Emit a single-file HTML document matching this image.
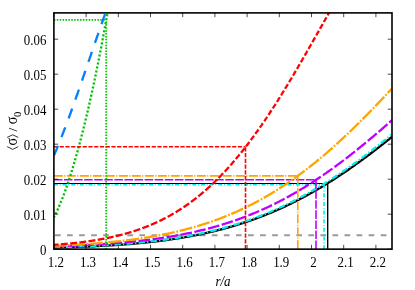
<!DOCTYPE html><html><head><meta charset="utf-8"><style>html,body{margin:0;padding:0;background:#fff}body{width:415px;height:290px;overflow:hidden;position:relative;font-family:"Liberation Serif",serif}.t text{font-family:"Liberation Serif",serif;font-size:13.3px}</style></head><body><svg width="415" height="290" viewBox="0 0 415 290" style="position:absolute;left:0;top:0;will-change:transform">
<defs><clipPath id="c"><rect x="53.9" y="12.9" width="338.1" height="236.25"/></clipPath></defs>
<rect width="415" height="290" fill="#fff"/>
<g clip-path="url(#c)" fill="none" stroke-linejoin="round">
<path d="M53.9,235.20 H392.0" stroke="#9a9a9a" stroke-width="2.0" stroke-dasharray="5.7 6.365" stroke-dashoffset="11.0"/>
<path d="M53.90,247.67 L55.03,247.65 L56.16,247.62 L57.29,247.59 L58.42,247.56 L59.55,247.53 L60.68,247.50 L61.82,247.47 L62.95,247.43 L64.08,247.40 L65.21,247.37 L66.34,247.33 L67.47,247.30 L68.60,247.26 L69.73,247.23 L70.86,247.19 L71.99,247.15 L73.12,247.12 L74.25,247.08 L75.38,247.04 L76.52,247.00 L77.65,246.96 L78.78,246.91 L79.91,246.87 L81.04,246.83 L82.17,246.78 L83.30,246.74 L84.43,246.69 L85.56,246.64 L86.69,246.60 L87.82,246.55 L88.95,246.50 L90.08,246.45 L91.22,246.40 L92.35,246.35 L93.48,246.29 L94.61,246.24 L95.74,246.18 L96.87,246.13 L98.00,246.07 L99.13,246.01 L100.26,245.95 L101.39,245.89 L102.52,245.83 L103.65,245.77 L104.78,245.70 L105.92,245.64 L107.05,245.57 L108.18,245.51 L109.31,245.44 L110.44,245.37 L111.57,245.30 L112.70,245.23 L113.83,245.15 L114.96,245.08 L116.09,245.00 L117.22,244.93 L118.35,244.85 L119.48,244.77 L120.62,244.69 L121.75,244.61 L122.88,244.52 L124.01,244.44 L125.14,244.35 L126.27,244.26 L127.40,244.17 L128.53,244.08 L129.66,243.99 L130.79,243.90 L131.92,243.80 L133.05,243.70 L134.18,243.61 L135.32,243.51 L136.45,243.40 L137.58,243.30 L138.71,243.19 L139.84,243.09 L140.97,242.98 L142.10,242.87 L143.23,242.76 L144.36,242.64 L145.49,242.53 L146.62,242.41 L147.75,242.29 L148.88,242.17 L150.02,242.05 L151.15,241.92 L152.28,241.79 L153.41,241.66 L154.54,241.53 L155.67,241.40 L156.80,241.26 L157.93,241.13 L159.06,240.99 L160.19,240.85 L161.32,240.70 L162.45,240.56 L163.58,240.41 L164.72,240.26 L165.85,240.11 L166.98,239.95 L168.11,239.79 L169.24,239.64 L170.37,239.47 L171.50,239.31 L172.63,239.14 L173.76,238.97 L174.89,238.80 L176.02,238.63 L177.15,238.45 L178.28,238.28 L179.42,238.09 L180.55,237.91 L181.68,237.72 L182.81,237.53 L183.94,237.34 L185.07,237.15 L186.20,236.95 L187.33,236.75 L188.46,236.55 L189.59,236.34 L190.72,236.14 L191.85,235.93 L192.98,235.71 L194.12,235.49 L195.25,235.28 L196.38,235.05 L197.51,234.83 L198.64,234.60 L199.77,234.37 L200.90,234.13 L202.03,233.90 L203.16,233.65 L204.29,233.41 L205.42,233.16 L206.55,232.91 L207.68,232.66 L208.82,232.40 L209.95,232.14 L211.08,231.88 L212.21,231.61 L213.34,231.34 L214.47,231.07 L215.60,230.80 L216.73,230.52 L217.86,230.23 L218.99,229.95 L220.12,229.66 L221.25,229.36 L222.38,229.06 L223.52,228.76 L224.65,228.46 L225.78,228.15 L226.91,227.84 L228.04,227.52 L229.17,227.21 L230.30,226.88 L231.43,226.56 L232.56,226.23 L233.69,225.89 L234.82,225.55 L235.95,225.21 L237.08,224.87 L238.22,224.52 L239.35,224.16 L240.48,223.81 L241.61,223.45 L242.74,223.08 L243.87,222.71 L245.00,222.34 L246.13,221.96 L247.26,221.58 L248.39,221.20 L249.52,220.81 L250.65,220.41 L251.78,220.02 L252.92,219.61 L254.05,219.21 L255.18,218.80 L256.31,218.38 L257.44,217.97 L258.57,217.54 L259.70,217.12 L260.83,216.69 L261.96,216.25 L263.09,215.81 L264.22,215.37 L265.35,214.92 L266.48,214.47 L267.62,214.01 L268.75,213.55 L269.88,213.08 L271.01,212.61 L272.14,212.14 L273.27,211.66 L274.40,211.17 L275.53,210.68 L276.66,210.19 L277.79,209.70 L278.92,209.19 L280.05,208.69 L281.18,208.18 L282.32,207.66 L283.45,207.14 L284.58,206.62 L285.71,206.09 L286.84,205.56 L287.97,205.02 L289.10,204.48 L290.23,203.93 L291.36,203.38 L292.49,202.82 L293.62,202.26 L294.75,201.69 L295.88,201.12 L297.02,200.55 L298.15,199.97 L299.28,199.39 L300.41,198.80 L301.54,198.20 L302.67,197.61 L303.80,197.00 L304.93,196.40 L306.06,195.78 L307.19,195.17 L308.32,194.55 L309.45,193.92 L310.58,193.29 L311.72,192.66 L312.85,192.02 L313.98,191.37 L315.11,190.72 L316.24,190.07 L317.37,189.41 L318.50,188.75 L319.63,188.08 L320.76,187.41 L321.89,186.74 L323.02,186.06 L324.15,185.37 L325.28,184.68 L326.42,183.99 L327.55,183.29 L328.68,182.59 L329.81,181.88 L330.94,181.17 L332.07,180.45 L333.20,179.73 L334.33,179.01 L335.46,178.28 L336.59,177.54 L337.72,176.80 L338.85,176.06 L339.98,175.32 L341.12,174.56 L342.25,173.81 L343.38,173.05 L344.51,172.29 L345.64,171.52 L346.77,170.75 L347.90,169.97 L349.03,169.19 L350.16,168.41 L351.29,167.62 L352.42,166.82 L353.55,166.03 L354.68,165.23 L355.82,164.42 L356.95,163.62 L358.08,162.80 L359.21,161.99 L360.34,161.17 L361.47,160.34 L362.60,159.52 L363.73,158.69 L364.86,157.85 L365.99,157.01 L367.12,156.17 L368.25,155.33 L369.38,154.48 L370.52,153.62 L371.65,152.77 L372.78,151.91 L373.91,151.05 L375.04,150.18 L376.17,149.31 L377.30,148.44 L378.43,147.56 L379.56,146.68 L380.69,145.80 L381.82,144.92 L382.95,144.03 L384.08,143.14 L385.22,142.24 L386.35,141.35 L387.48,140.45 L388.61,139.55 L389.74,138.64 L390.87,137.73 L392.00,136.82" stroke="#000000" stroke-width="2.3"/>
<path d="M53.9,183.40 H327.70" stroke="#000000" stroke-width="1.05"/>
<path d="M327.70,249.15 V183.40" stroke="#000000" stroke-width="1.35"/>
<path d="M53.90,247.23 L55.03,247.20 L56.16,247.17 L57.29,247.14 L58.42,247.11 L59.55,247.08 L60.68,247.05 L61.82,247.01 L62.95,246.98 L64.08,246.95 L65.21,246.91 L66.34,246.88 L67.47,246.84 L68.60,246.81 L69.73,246.77 L70.86,246.73 L71.99,246.69 L73.12,246.66 L74.25,246.62 L75.38,246.58 L76.52,246.53 L77.65,246.49 L78.78,246.45 L79.91,246.41 L81.04,246.36 L82.17,246.32 L83.30,246.27 L84.43,246.22 L85.56,246.18 L86.69,246.13 L87.82,246.08 L88.95,246.03 L90.08,245.98 L91.22,245.92 L92.35,245.87 L93.48,245.82 L94.61,245.76 L95.74,245.71 L96.87,245.65 L98.00,245.59 L99.13,245.53 L100.26,245.47 L101.39,245.41 L102.52,245.35 L103.65,245.28 L104.78,245.22 L105.92,245.15 L107.05,245.09 L108.18,245.02 L109.31,244.95 L110.44,244.88 L111.57,244.81 L112.70,244.73 L113.83,244.66 L114.96,244.58 L116.09,244.50 L117.22,244.43 L118.35,244.35 L119.48,244.27 L120.62,244.18 L121.75,244.10 L122.88,244.01 L124.01,243.93 L125.14,243.84 L126.27,243.75 L127.40,243.66 L128.53,243.57 L129.66,243.47 L130.79,243.38 L131.92,243.28 L133.05,243.18 L134.18,243.08 L135.32,242.98 L136.45,242.87 L137.58,242.77 L138.71,242.66 L139.84,242.55 L140.97,242.44 L142.10,242.33 L143.23,242.21 L144.36,242.10 L145.49,241.98 L146.62,241.86 L147.75,241.74 L148.88,241.61 L150.02,241.49 L151.15,241.36 L152.28,241.23 L153.41,241.10 L154.54,240.97 L155.67,240.83 L156.80,240.69 L157.93,240.55 L159.06,240.41 L160.19,240.27 L161.32,240.12 L162.45,239.97 L163.58,239.82 L164.72,239.67 L165.85,239.51 L166.98,239.36 L168.11,239.20 L169.24,239.03 L170.37,238.87 L171.50,238.70 L172.63,238.53 L173.76,238.36 L174.89,238.19 L176.02,238.01 L177.15,237.83 L178.28,237.65 L179.42,237.46 L180.55,237.28 L181.68,237.09 L182.81,236.89 L183.94,236.70 L185.07,236.50 L186.20,236.30 L187.33,236.10 L188.46,235.89 L189.59,235.68 L190.72,235.47 L191.85,235.25 L192.98,235.04 L194.12,234.81 L195.25,234.59 L196.38,234.36 L197.51,234.13 L198.64,233.90 L199.77,233.67 L200.90,233.43 L202.03,233.18 L203.16,232.94 L204.29,232.69 L205.42,232.44 L206.55,232.18 L207.68,231.93 L208.82,231.66 L209.95,231.40 L211.08,231.13 L212.21,230.86 L213.34,230.59 L214.47,230.31 L215.60,230.03 L216.73,229.74 L217.86,229.45 L218.99,229.16 L220.12,228.86 L221.25,228.56 L222.38,228.26 L223.52,227.96 L224.65,227.65 L225.78,227.33 L226.91,227.01 L228.04,226.69 L229.17,226.37 L230.30,226.04 L231.43,225.71 L232.56,225.37 L233.69,225.03 L234.82,224.68 L235.95,224.34 L237.08,223.98 L238.22,223.63 L239.35,223.27 L240.48,222.91 L241.61,222.54 L242.74,222.17 L243.87,221.79 L245.00,221.41 L246.13,221.02 L247.26,220.64 L248.39,220.24 L249.52,219.85 L250.65,219.45 L251.78,219.04 L252.92,218.63 L254.05,218.22 L255.18,217.80 L256.31,217.38 L257.44,216.95 L258.57,216.52 L259.70,216.09 L260.83,215.65 L261.96,215.20 L263.09,214.76 L264.22,214.30 L265.35,213.85 L266.48,213.39 L267.62,212.92 L268.75,212.45 L269.88,211.97 L271.01,211.50 L272.14,211.01 L273.27,210.52 L274.40,210.03 L275.53,209.53 L276.66,209.03 L277.79,208.52 L278.92,208.01 L280.05,207.50 L281.18,206.98 L282.32,206.45 L283.45,205.92 L284.58,205.39 L285.71,204.85 L286.84,204.31 L287.97,203.76 L289.10,203.21 L290.23,202.65 L291.36,202.09 L292.49,201.52 L293.62,200.95 L294.75,200.37 L295.88,199.79 L297.02,199.20 L298.15,198.61 L299.28,198.02 L300.41,197.42 L301.54,196.81 L302.67,196.21 L303.80,195.59 L304.93,194.97 L306.06,194.35 L307.19,193.72 L308.32,193.09 L309.45,192.45 L310.58,191.81 L311.72,191.16 L312.85,190.51 L313.98,189.85 L315.11,189.19 L316.24,188.53 L317.37,187.86 L318.50,187.18 L319.63,186.50 L320.76,185.82 L321.89,185.13 L323.02,184.44 L324.15,183.74 L325.28,183.04 L326.42,182.33 L327.55,181.62 L328.68,180.90 L329.81,180.18 L330.94,179.46 L332.07,178.73 L333.20,177.99 L334.33,177.25 L335.46,176.51 L336.59,175.76 L337.72,175.01 L338.85,174.25 L339.98,173.49 L341.12,172.73 L342.25,171.96 L343.38,171.18 L344.51,170.40 L345.64,169.62 L346.77,168.84 L347.90,168.04 L349.03,167.25 L350.16,166.45 L351.29,165.65 L352.42,164.84 L353.55,164.03 L354.68,163.21 L355.82,162.39 L356.95,161.57 L358.08,160.74 L359.21,159.91 L360.34,159.08 L361.47,158.24 L362.60,157.39 L363.73,156.55 L364.86,155.70 L365.99,154.84 L367.12,153.98 L368.25,153.12 L369.38,152.26 L370.52,151.39 L371.65,150.52 L372.78,149.64 L373.91,148.76 L375.04,147.88 L376.17,146.99 L377.30,146.10 L378.43,145.21 L379.56,144.32 L380.69,143.42 L381.82,142.52 L382.95,141.61 L384.08,140.70 L385.22,139.79 L386.35,138.88 L387.48,137.96 L388.61,137.04 L389.74,136.12 L390.87,135.19 L392.00,134.27" stroke="#00eeee" stroke-width="2.3" stroke-dasharray="6.4 2.05 1.45 2.21" stroke-dashoffset="0"/>
<path d="M53.9,184.80 H324.10" stroke="#00eeee" stroke-width="1.6" stroke-dasharray="4.0 1.75 0.9 2.0"/>
<path d="M324.10,249.15 V184.80" stroke="#00eeee" stroke-width="1.6" stroke-dasharray="4.0 1.75 0.9 2.0"/>
<path d="M53.90,246.30 L55.03,246.27 L56.16,246.24 L57.29,246.20 L58.42,246.17 L59.55,246.13 L60.68,246.09 L61.82,246.06 L62.95,246.02 L64.08,245.98 L65.21,245.94 L66.34,245.90 L67.47,245.86 L68.60,245.82 L69.73,245.77 L70.86,245.73 L71.99,245.68 L73.12,245.64 L74.25,245.59 L75.38,245.54 L76.52,245.50 L77.65,245.45 L78.78,245.40 L79.91,245.35 L81.04,245.29 L82.17,245.24 L83.30,245.19 L84.43,245.13 L85.56,245.08 L86.69,245.02 L87.82,244.96 L88.95,244.90 L90.08,244.84 L91.22,244.78 L92.35,244.72 L93.48,244.65 L94.61,244.59 L95.74,244.52 L96.87,244.46 L98.00,244.39 L99.13,244.32 L100.26,244.25 L101.39,244.18 L102.52,244.10 L103.65,244.03 L104.78,243.95 L105.92,243.88 L107.05,243.80 L108.18,243.72 L109.31,243.64 L110.44,243.55 L111.57,243.47 L112.70,243.39 L113.83,243.30 L114.96,243.21 L116.09,243.12 L117.22,243.03 L118.35,242.94 L119.48,242.84 L120.62,242.75 L121.75,242.65 L122.88,242.55 L124.01,242.45 L125.14,242.35 L126.27,242.24 L127.40,242.14 L128.53,242.03 L129.66,241.92 L130.79,241.81 L131.92,241.70 L133.05,241.59 L134.18,241.47 L135.32,241.35 L136.45,241.23 L137.58,241.11 L138.71,240.99 L139.84,240.86 L140.97,240.73 L142.10,240.60 L143.23,240.47 L144.36,240.34 L145.49,240.20 L146.62,240.06 L147.75,239.92 L148.88,239.78 L150.02,239.64 L151.15,239.49 L152.28,239.34 L153.41,239.19 L154.54,239.04 L155.67,238.88 L156.80,238.72 L157.93,238.56 L159.06,238.40 L160.19,238.24 L161.32,238.07 L162.45,237.90 L163.58,237.73 L164.72,237.55 L165.85,237.37 L166.98,237.19 L168.11,237.01 L169.24,236.82 L170.37,236.64 L171.50,236.44 L172.63,236.25 L173.76,236.05 L174.89,235.86 L176.02,235.65 L177.15,235.45 L178.28,235.24 L179.42,235.03 L180.55,234.82 L181.68,234.60 L182.81,234.38 L183.94,234.16 L185.07,233.93 L186.20,233.70 L187.33,233.47 L188.46,233.24 L189.59,233.00 L190.72,232.76 L191.85,232.51 L192.98,232.26 L194.12,232.01 L195.25,231.76 L196.38,231.50 L197.51,231.24 L198.64,230.97 L199.77,230.71 L200.90,230.43 L202.03,230.16 L203.16,229.88 L204.29,229.60 L205.42,229.31 L206.55,229.02 L207.68,228.73 L208.82,228.43 L209.95,228.13 L211.08,227.83 L212.21,227.52 L213.34,227.21 L214.47,226.89 L215.60,226.57 L216.73,226.25 L217.86,225.92 L218.99,225.59 L220.12,225.25 L221.25,224.91 L222.38,224.57 L223.52,224.22 L224.65,223.87 L225.78,223.51 L226.91,223.15 L228.04,222.79 L229.17,222.42 L230.30,222.05 L231.43,221.67 L232.56,221.29 L233.69,220.91 L234.82,220.51 L235.95,220.12 L237.08,219.72 L238.22,219.32 L239.35,218.91 L240.48,218.50 L241.61,218.08 L242.74,217.66 L243.87,217.23 L245.00,216.80 L246.13,216.37 L247.26,215.93 L248.39,215.49 L249.52,215.04 L250.65,214.58 L251.78,214.12 L252.92,213.66 L254.05,213.19 L255.18,212.72 L256.31,212.24 L257.44,211.76 L258.57,211.27 L259.70,210.78 L260.83,210.29 L261.96,209.78 L263.09,209.28 L264.22,208.77 L265.35,208.25 L266.48,207.73 L267.62,207.20 L268.75,206.67 L269.88,206.13 L271.01,205.59 L272.14,205.05 L273.27,204.50 L274.40,203.94 L275.53,203.38 L276.66,202.81 L277.79,202.24 L278.92,201.66 L280.05,201.08 L281.18,200.49 L282.32,199.90 L283.45,199.31 L284.58,198.70 L285.71,198.10 L286.84,197.48 L287.97,196.87 L289.10,196.24 L290.23,195.62 L291.36,194.98 L292.49,194.34 L293.62,193.70 L294.75,193.05 L295.88,192.40 L297.02,191.74 L298.15,191.08 L299.28,190.41 L300.41,189.73 L301.54,189.05 L302.67,188.37 L303.80,187.68 L304.93,186.99 L306.06,186.29 L307.19,185.58 L308.32,184.87 L309.45,184.16 L310.58,183.44 L311.72,182.71 L312.85,181.98 L313.98,181.25 L315.11,180.51 L316.24,179.76 L317.37,179.01 L318.50,178.26 L319.63,177.50 L320.76,176.73 L321.89,175.96 L323.02,175.19 L324.15,174.41 L325.28,173.63 L326.42,172.84 L327.55,172.04 L328.68,171.25 L329.81,170.44 L330.94,169.63 L332.07,168.82 L333.20,168.01 L334.33,167.18 L335.46,166.36 L336.59,165.53 L337.72,164.69 L338.85,163.85 L339.98,163.01 L341.12,162.16 L342.25,161.31 L343.38,160.45 L344.51,159.59 L345.64,158.72 L346.77,157.85 L347.90,156.98 L349.03,156.10 L350.16,155.22 L351.29,154.33 L352.42,153.44 L353.55,152.55 L354.68,151.65 L355.82,150.75 L356.95,149.84 L358.08,148.93 L359.21,148.02 L360.34,147.11 L361.47,146.19 L362.60,145.26 L363.73,144.33 L364.86,143.40 L365.99,142.47 L367.12,141.53 L368.25,140.59 L369.38,139.65 L370.52,138.70 L371.65,137.75 L372.78,136.80 L373.91,135.85 L375.04,134.89 L376.17,133.93 L377.30,132.96 L378.43,132.00 L379.56,131.03 L380.69,130.05 L381.82,129.08 L382.95,128.10 L384.08,127.13 L385.22,126.14 L386.35,125.16 L387.48,124.18 L388.61,123.19 L389.74,122.20 L390.87,121.21 L392.00,120.22" stroke="#c000ff" stroke-width="2.3" stroke-dasharray="11.65 2.49" stroke-dashoffset="0"/>
<path d="M53.9,179.75 H316.00" stroke="#c000ff" stroke-width="1.6" stroke-dasharray="8.55 1.53"/>
<path d="M316.00,249.15 V179.75" stroke="#c000ff" stroke-width="1.6" stroke-dasharray="8.55 1.53"/>
<path d="M53.90,245.77 L55.03,245.72 L56.16,245.68 L57.29,245.63 L58.42,245.58 L59.55,245.53 L60.68,245.48 L61.82,245.43 L62.95,245.38 L64.08,245.32 L65.21,245.27 L66.34,245.21 L67.47,245.16 L68.60,245.10 L69.73,245.04 L70.86,244.98 L71.99,244.92 L73.12,244.86 L74.25,244.80 L75.38,244.73 L76.52,244.67 L77.65,244.60 L78.78,244.53 L79.91,244.47 L81.04,244.40 L82.17,244.32 L83.30,244.25 L84.43,244.18 L85.56,244.10 L86.69,244.03 L87.82,243.95 L88.95,243.87 L90.08,243.79 L91.22,243.71 L92.35,243.62 L93.48,243.54 L94.61,243.45 L95.74,243.37 L96.87,243.28 L98.00,243.19 L99.13,243.09 L100.26,243.00 L101.39,242.90 L102.52,242.81 L103.65,242.71 L104.78,242.61 L105.92,242.51 L107.05,242.40 L108.18,242.30 L109.31,242.19 L110.44,242.08 L111.57,241.97 L112.70,241.86 L113.83,241.74 L114.96,241.63 L116.09,241.51 L117.22,241.39 L118.35,241.27 L119.48,241.14 L120.62,241.02 L121.75,240.89 L122.88,240.76 L124.01,240.62 L125.14,240.49 L126.27,240.35 L127.40,240.21 L128.53,240.07 L129.66,239.93 L130.79,239.79 L131.92,239.64 L133.05,239.49 L134.18,239.33 L135.32,239.18 L136.45,239.02 L137.58,238.86 L138.71,238.70 L139.84,238.54 L140.97,238.37 L142.10,238.20 L143.23,238.03 L144.36,237.85 L145.49,237.68 L146.62,237.50 L147.75,237.31 L148.88,237.13 L150.02,236.94 L151.15,236.75 L152.28,236.55 L153.41,236.36 L154.54,236.16 L155.67,235.96 L156.80,235.75 L157.93,235.54 L159.06,235.33 L160.19,235.12 L161.32,234.90 L162.45,234.68 L163.58,234.45 L164.72,234.23 L165.85,234.00 L166.98,233.76 L168.11,233.52 L169.24,233.28 L170.37,233.04 L171.50,232.79 L172.63,232.54 L173.76,232.29 L174.89,232.03 L176.02,231.77 L177.15,231.51 L178.28,231.24 L179.42,230.97 L180.55,230.69 L181.68,230.41 L182.81,230.13 L183.94,229.84 L185.07,229.55 L186.20,229.26 L187.33,228.96 L188.46,228.66 L189.59,228.35 L190.72,228.04 L191.85,227.72 L192.98,227.41 L194.12,227.08 L195.25,226.76 L196.38,226.43 L197.51,226.09 L198.64,225.75 L199.77,225.41 L200.90,225.06 L202.03,224.71 L203.16,224.35 L204.29,223.99 L205.42,223.62 L206.55,223.25 L207.68,222.88 L208.82,222.50 L209.95,222.12 L211.08,221.73 L212.21,221.34 L213.34,220.94 L214.47,220.53 L215.60,220.13 L216.73,219.72 L217.86,219.30 L218.99,218.88 L220.12,218.45 L221.25,218.02 L222.38,217.58 L223.52,217.14 L224.65,216.69 L225.78,216.24 L226.91,215.78 L228.04,215.32 L229.17,214.86 L230.30,214.38 L231.43,213.91 L232.56,213.42 L233.69,212.93 L234.82,212.44 L235.95,211.94 L237.08,211.44 L238.22,210.93 L239.35,210.41 L240.48,209.89 L241.61,209.37 L242.74,208.84 L243.87,208.30 L245.00,207.76 L246.13,207.21 L247.26,206.65 L248.39,206.09 L249.52,205.53 L250.65,204.96 L251.78,204.38 L252.92,203.80 L254.05,203.21 L255.18,202.62 L256.31,202.02 L257.44,201.41 L258.57,200.80 L259.70,200.18 L260.83,199.56 L261.96,198.93 L263.09,198.30 L264.22,197.66 L265.35,197.01 L266.48,196.36 L267.62,195.70 L268.75,195.03 L269.88,194.36 L271.01,193.69 L272.14,193.00 L273.27,192.32 L274.40,191.62 L275.53,190.92 L276.66,190.21 L277.79,189.50 L278.92,188.78 L280.05,188.06 L281.18,187.32 L282.32,186.59 L283.45,185.84 L284.58,185.09 L285.71,184.34 L286.84,183.57 L287.97,182.81 L289.10,182.03 L290.23,181.25 L291.36,180.46 L292.49,179.67 L293.62,178.87 L294.75,178.07 L295.88,177.26 L297.02,176.44 L298.15,175.62 L299.28,174.79 L300.41,173.95 L301.54,173.11 L302.67,172.26 L303.80,171.41 L304.93,170.55 L306.06,169.68 L307.19,168.81 L308.32,167.93 L309.45,167.05 L310.58,166.16 L311.72,165.26 L312.85,164.36 L313.98,163.45 L315.11,162.53 L316.24,161.61 L317.37,160.69 L318.50,159.76 L319.63,158.82 L320.76,157.87 L321.89,156.93 L323.02,155.97 L324.15,155.01 L325.28,154.04 L326.42,153.07 L327.55,152.09 L328.68,151.11 L329.81,150.12 L330.94,149.12 L332.07,148.12 L333.20,147.12 L334.33,146.11 L335.46,145.09 L336.59,144.07 L337.72,143.04 L338.85,142.01 L339.98,140.97 L341.12,139.93 L342.25,138.88 L343.38,137.82 L344.51,136.76 L345.64,135.70 L346.77,134.63 L347.90,133.56 L349.03,132.48 L350.16,131.40 L351.29,130.31 L352.42,129.21 L353.55,128.12 L354.68,127.01 L355.82,125.91 L356.95,124.80 L358.08,123.68 L359.21,122.56 L360.34,121.43 L361.47,120.31 L362.60,119.17 L363.73,118.03 L364.86,116.89 L365.99,115.75 L367.12,114.60 L368.25,113.44 L369.38,112.29 L370.52,111.13 L371.65,109.96 L372.78,108.79 L373.91,107.62 L375.04,106.45 L376.17,105.27 L377.30,104.09 L378.43,102.90 L379.56,101.71 L380.69,100.52 L381.82,99.33 L382.95,98.13 L384.08,96.93 L385.22,95.72 L386.35,94.52 L387.48,93.31 L388.61,92.10 L389.74,90.89 L390.87,89.67 L392.00,88.45" stroke="#ffa500" stroke-width="2.3" stroke-dasharray="13 1.7 1.72 1.7" stroke-dashoffset="0"/>
<path d="M53.9,175.90 H297.80" stroke="#ffa500" stroke-width="1.6" stroke-dasharray="8.95 1.35 1.15 1.55"/>
<path d="M297.80,249.15 V175.90" stroke="#ffa500" stroke-width="1.6" stroke-dasharray="8.95 1.35 1.15 1.55"/>
<path d="M53.90,217.38 L54.09,217.01 L54.28,216.65 L54.47,216.28 L54.65,215.90 L54.84,215.53 L55.03,215.15 L55.22,214.77 L55.41,214.39 L55.60,214.00 L55.78,213.61 L55.97,213.22 L56.16,212.83 L56.35,212.43 L56.54,212.03 L56.73,211.63 L56.92,211.22 L57.10,210.82 L57.29,210.41 L57.48,209.99 L57.67,209.58 L57.86,209.16 L58.05,208.74 L58.23,208.32 L58.42,207.89 L58.61,207.46 L58.80,207.03 L58.99,206.60 L59.18,206.16 L59.37,205.72 L59.55,205.28 L59.74,204.83 L59.93,204.39 L60.12,203.94 L60.31,203.48 L60.50,203.03 L60.68,202.57 L60.87,202.11 L61.06,201.64 L61.25,201.18 L61.44,200.71 L61.63,200.24 L61.82,199.76 L62.00,199.29 L62.19,198.81 L62.38,198.32 L62.57,197.84 L62.76,197.35 L62.95,196.86 L63.13,196.37 L63.32,195.87 L63.51,195.37 L63.70,194.87 L63.89,194.37 L64.08,193.86 L64.27,193.35 L64.45,192.84 L64.64,192.33 L64.83,191.81 L65.02,191.29 L65.21,190.77 L65.40,190.25 L65.58,189.72 L65.77,189.19 L65.96,188.66 L66.15,188.12 L66.34,187.59 L66.53,187.05 L66.72,186.50 L66.90,185.96 L67.09,185.41 L67.28,184.86 L67.47,184.31 L67.66,183.75 L67.85,183.19 L68.03,182.63 L68.22,182.07 L68.41,181.50 L68.60,180.94 L68.79,180.36 L68.98,179.79 L69.17,179.22 L69.35,178.64 L69.54,178.06 L69.73,177.47 L69.92,176.89 L70.11,176.30 L70.30,175.71 L70.48,175.11 L70.67,174.52 L70.86,173.92 L71.05,173.32 L71.24,172.72 L71.43,172.11 L71.62,171.50 L71.80,170.89 L71.99,170.28 L72.18,169.66 L72.37,169.05 L72.56,168.42 L72.75,167.80 L72.93,167.18 L73.12,166.55 L73.31,165.92 L73.50,165.29 L73.69,164.65 L73.88,164.01 L74.07,163.37 L74.25,162.73 L74.44,162.09 L74.63,161.44 L74.82,160.79 L75.01,160.14 L75.20,159.49 L75.38,158.83 L75.57,158.17 L75.76,157.51 L75.95,156.85 L76.14,156.18 L76.33,155.51 L76.52,154.84 L76.70,154.17 L76.89,153.49 L77.08,152.82 L77.27,152.14 L77.46,151.45 L77.65,150.77 L77.83,150.08 L78.02,149.39 L78.21,148.70 L78.40,148.01 L78.59,147.31 L78.78,146.61 L78.97,145.91 L79.15,145.21 L79.34,144.50 L79.53,143.80 L79.72,143.09 L79.91,142.37 L80.10,141.66 L80.28,140.94 L80.47,140.23 L80.66,139.50 L80.85,138.78 L81.04,138.05 L81.23,137.33 L81.42,136.60 L81.60,135.86 L81.79,135.13 L81.98,134.39 L82.17,133.65 L82.36,132.91 L82.55,132.17 L82.73,131.42 L82.92,130.67 L83.11,129.92 L83.30,129.17 L83.49,128.42 L83.68,127.66 L83.87,126.90 L84.05,126.14 L84.24,125.37 L84.43,124.61 L84.62,123.84 L84.81,123.07 L85.00,122.30 L85.18,121.52 L85.37,120.74 L85.56,119.97 L85.75,119.18 L85.94,118.40 L86.13,117.61 L86.32,116.82 L86.50,116.03 L86.69,115.24 L86.88,114.45 L87.07,113.65 L87.26,112.85 L87.45,112.05 L87.63,111.24 L87.82,110.44 L88.01,109.63 L88.20,108.82 L88.39,108.00 L88.58,107.19 L88.77,106.37 L88.95,105.55 L89.14,104.73 L89.33,103.90 L89.52,103.08 L89.71,102.25 L89.90,101.42 L90.08,100.58 L90.27,99.75 L90.46,98.91 L90.65,98.07 L90.84,97.23 L91.03,96.38 L91.22,95.53 L91.40,94.68 L91.59,93.83 L91.78,92.98 L91.97,92.12 L92.16,91.26 L92.35,90.40 L92.53,89.54 L92.72,88.67 L92.91,87.80 L93.10,86.93 L93.29,86.06 L93.48,85.18 L93.67,84.30 L93.85,83.42 L94.04,82.54 L94.23,81.65 L94.42,80.77 L94.61,79.88 L94.80,78.98 L94.98,78.09 L95.17,77.19 L95.36,76.29 L95.55,75.39 L95.74,74.48 L95.93,73.58 L96.12,72.67 L96.30,71.75 L96.49,70.84 L96.68,69.92 L96.87,69.00 L97.06,68.08 L97.25,67.15 L97.43,66.22 L97.62,65.29 L97.81,64.36 L98.00,63.42 L98.19,62.48 L98.38,61.54 L98.57,60.60 L98.75,59.65 L98.94,58.70 L99.13,57.75 L99.32,56.80 L99.51,55.84 L99.70,54.88 L99.88,53.91 L100.07,52.95 L100.26,51.98 L100.45,51.01 L100.64,50.03 L100.83,49.06 L101.02,48.08 L101.20,47.09 L101.39,46.11 L101.58,45.12 L101.77,44.13 L101.96,43.13 L102.15,42.13 L102.33,41.13 L102.52,40.13 L102.71,39.12 L102.90,38.11 L103.09,37.10 L103.28,36.08 L103.47,35.06 L103.65,34.04 L103.84,33.02 L104.03,31.99 L104.22,30.95 L104.41,29.92 L104.60,28.88 L104.78,27.84 L104.97,26.79 L105.16,25.75 L105.35,24.69 L105.54,23.64 L105.73,22.58 L105.92,21.52 L106.10,20.45 L106.29,19.38 L106.48,18.31 L106.67,17.24 L106.86,16.16 L107.05,15.07 L107.23,13.99 L107.42,12.90 L107.61,11.80 L107.80,10.71 L107.99,9.61 L108.18,8.50 L108.37,7.39 L108.55,6.28 L108.74,5.16 L108.93,4.04 L109.12,2.92 L109.31,1.79 L109.50,0.66 L109.68,-0.48 L109.87,-1.61 L110.06,-2.76 L110.25,-3.91" stroke="#00c000" stroke-width="2.3" stroke-dasharray="2.1 2.0" stroke-dashoffset="0.5"/>
<path d="M53.9,19.90 H106.20" stroke="#00c000" stroke-width="1.8" stroke-dasharray="1.5 1.4"/>
<path d="M106.20,249.15 V19.90" stroke="#00c000" stroke-width="1.8" stroke-dasharray="1.5 1.4"/>
<path d="M53.95,244.85 L54.26,244.83 L54.58,244.81 L54.89,244.79 L55.20,244.76 L55.51,244.74 L55.83,244.72 L56.14,244.69 L56.45,244.67 L56.76,244.65 L57.08,244.62 L57.39,244.60 L57.70,244.57 L58.01,244.55 L58.32,244.52 L58.64,244.50 L58.64,244.50 M60.93,244.31 L61.24,244.29 L61.55,244.26 L61.86,244.23 L62.18,244.21 L62.49,244.18 L62.80,244.15 L63.11,244.13 L63.43,244.10 L63.74,244.07 L64.05,244.04 L64.36,244.02 L64.67,243.99 L64.99,243.96 L65.30,243.93 L65.61,243.90 L65.92,243.87 L66.24,243.85 L66.55,243.82 L66.86,243.79 L67.17,243.76 L67.49,243.73 L67.80,243.70 L67.80,243.70 M70.09,243.47 L70.40,243.44 L70.71,243.41 L71.02,243.38 L71.34,243.35 L71.65,243.32 L71.96,243.28 L72.27,243.25 L72.59,243.22 L72.90,243.18 L73.21,243.15 L73.52,243.12 L73.84,243.08 L74.15,243.05 L74.46,243.02 L74.77,242.98 L75.08,242.95 L75.40,242.91 L75.71,242.88 L76.02,242.84 L76.33,242.81 L76.65,242.77 L76.96,242.74 L77.06,242.73 M79.35,242.46 L79.67,242.42 L79.98,242.38 L80.29,242.34 L80.60,242.30 L80.91,242.27 L81.23,242.23 L81.54,242.19 L81.85,242.15 L82.16,242.11 L82.48,242.07 L82.79,242.03 L83.10,241.99 L83.41,241.95 L83.73,241.91 L84.04,241.87 L84.35,241.82 L84.66,241.78 L84.97,241.74 L85.29,241.70 L85.60,241.66 L85.91,241.61 L86.22,241.57 L86.22,241.57 M88.51,241.25 L88.83,241.21 L89.14,241.16 L89.45,241.12 L89.76,241.07 L90.08,241.02 L90.39,240.98 L90.70,240.93 L91.01,240.88 L91.32,240.84 L91.64,240.79 L91.95,240.74 L92.26,240.69 L92.57,240.65 L92.89,240.60 L93.20,240.55 L93.51,240.50 L93.82,240.45 L94.14,240.40 L94.45,240.35 L94.76,240.30 L95.07,240.25 L95.38,240.20 L95.38,240.20 M97.68,239.82 L97.99,239.76 L98.30,239.71 L98.61,239.66 L98.92,239.60 L99.24,239.55 L99.55,239.49 L99.86,239.44 L100.17,239.38 L100.49,239.33 L100.80,239.27 L101.11,239.21 L101.42,239.16 L101.74,239.10 L102.05,239.04 L102.36,238.98 L102.67,238.93 L102.98,238.87 L103.30,238.81 L103.61,238.75 L103.92,238.69 L104.23,238.63 L104.44,238.59 M106.73,238.14 L107.04,238.08 L107.36,238.01 L107.67,237.95 L107.98,237.88 L108.29,237.82 L108.61,237.76 L108.92,237.69 L109.23,237.62 L109.54,237.56 L109.86,237.49 L110.17,237.43 L110.48,237.36 L110.79,237.29 L111.10,237.22 L111.42,237.16 L111.73,237.09 L112.04,237.02 L112.35,236.95 L112.67,236.88 L112.98,236.81 L113.29,236.74 L113.50,236.69 M115.79,236.16 L116.10,236.09 L116.41,236.01 L116.73,235.94 L117.04,235.86 L117.35,235.79 L117.66,235.71 L117.98,235.64 L118.29,235.56 L118.60,235.48 L118.91,235.40 L119.22,235.33 L119.54,235.25 L119.85,235.17 L120.16,235.09 L120.47,235.01 L120.79,234.93 L121.10,234.85 L121.41,234.77 L121.72,234.69 L122.04,234.60 L122.35,234.52 L122.56,234.47 M124.74,233.87 L125.05,233.79 L125.37,233.70 L125.68,233.61 L125.99,233.53 L126.30,233.44 L126.62,233.35 L126.93,233.26 L127.24,233.17 L127.55,233.08 L127.86,232.99 L128.18,232.90 L128.49,232.81 L128.80,232.72 L129.11,232.62 L129.43,232.53 L129.74,232.44 L130.05,232.34 L130.36,232.25 L130.68,232.15 L130.99,232.06 L131.30,231.96 L131.40,231.93 M133.59,231.24 L133.90,231.14 L134.22,231.04 L134.53,230.94 L134.84,230.84 L135.15,230.74 L135.46,230.63 L135.78,230.53 L136.09,230.43 L136.40,230.32 L136.71,230.22 L137.03,230.11 L137.34,230.01 L137.65,229.90 L137.96,229.79 L138.28,229.69 L138.59,229.58 L138.90,229.47 L139.21,229.36 L139.52,229.25 L139.84,229.14 L140.15,229.03 L140.15,229.03 M142.34,228.24 L142.65,228.12 L142.95,228.01 L143.24,227.90 L143.52,227.80 L143.80,227.69 L144.08,227.59 L144.36,227.48 L144.64,227.37 L144.92,227.26 L145.20,227.16 L145.48,227.05 L145.77,226.94 L146.05,226.83 L146.33,226.72 L146.61,226.61 L146.89,226.50 L147.17,226.38 L147.45,226.27 L147.73,226.16 L148.01,226.05 L148.30,225.93 L148.58,225.82 L148.86,225.70 L148.86,225.70 M150.92,224.85 L151.20,224.73 L151.48,224.61 L151.76,224.49 L152.04,224.37 L152.32,224.25 L152.60,224.13 L152.89,224.01 L153.17,223.89 L153.45,223.76 L153.73,223.64 L154.01,223.52 L154.29,223.39 L154.57,223.27 L154.85,223.14 L155.13,223.01 L155.42,222.89 L155.70,222.76 L155.98,222.63 L156.26,222.50 L156.54,222.38 L156.82,222.25 L157.10,222.12 L157.29,222.03 M159.35,221.06 L159.63,220.92 L159.91,220.79 L160.19,220.65 L160.47,220.51 L160.76,220.38 L161.04,220.24 L161.32,220.10 L161.60,219.96 L161.88,219.82 L162.16,219.68 L162.44,219.54 L162.72,219.40 L163.00,219.26 L163.29,219.12 L163.57,218.98 L163.85,218.83 L164.13,218.69 L164.41,218.54 L164.69,218.40 L164.97,218.25 L165.25,218.11 L165.53,217.96 L165.63,217.91 M167.60,216.86 L167.88,216.71 L168.16,216.56 L168.44,216.40 L168.72,216.25 L169.00,216.10 L169.28,215.94 L169.56,215.79 L169.84,215.63 L170.13,215.47 L170.41,215.32 L170.69,215.16 L170.97,215.00 L171.25,214.84 L171.53,214.68 L171.81,214.52 L172.09,214.36 L172.37,214.20 L172.66,214.03 L172.94,213.87 L173.22,213.71 L173.50,213.54 L173.69,213.43 M175.65,212.26 L175.93,212.09 L176.22,211.92 L176.50,211.75 L176.76,211.58 L177.02,211.43 L177.28,211.27 L177.53,211.11 L177.79,210.95 L178.04,210.79 L178.30,210.63 L178.55,210.47 L178.81,210.31 L179.06,210.15 L179.32,209.99 L179.58,209.83 L179.83,209.67 L180.09,209.50 L180.34,209.34 L180.60,209.17 L180.85,209.01 L181.11,208.84 L181.36,208.68 L181.53,208.57 M183.49,207.27 L183.75,207.10 L184.00,206.93 L184.26,206.75 L184.52,206.58 L184.77,206.41 L185.03,206.23 L185.28,206.06 L185.54,205.88 L185.79,205.70 L186.05,205.53 L186.30,205.35 L186.56,205.17 L186.82,204.99 L187.07,204.82 L187.33,204.64 L187.58,204.46 L187.84,204.28 L188.09,204.09 L188.35,203.91 L188.60,203.73 L188.86,203.55 L189.12,203.36 L189.20,203.30 M190.99,202.00 L191.24,201.81 L191.50,201.62 L191.76,201.43 L192.01,201.24 L192.27,201.05 L192.52,200.86 L192.78,200.66 L193.03,200.47 L193.29,200.28 L193.54,200.08 L193.80,199.89 L194.06,199.69 L194.31,199.50 L194.57,199.30 L194.82,199.10 L195.08,198.90 L195.33,198.71 L195.59,198.51 L195.84,198.31 L196.10,198.11 L196.35,197.91 L196.53,197.77 M198.30,196.35 L198.54,196.16 L198.77,195.97 L199.01,195.78 L199.24,195.59 L199.47,195.40 L199.71,195.21 L199.94,195.02 L200.18,194.83 L200.41,194.63 L200.65,194.44 L200.88,194.24 L201.11,194.05 L201.35,193.85 L201.58,193.66 L201.82,193.46 L202.05,193.26 L202.29,193.07 L202.52,192.87 L202.75,192.67 L202.99,192.47 L203.22,192.27 L203.46,192.07 L203.69,191.87 L203.69,191.87 M205.41,190.38 L205.64,190.18 L205.88,189.97 L206.11,189.76 L206.35,189.56 L206.58,189.35 L206.81,189.14 L207.05,188.93 L207.28,188.72 L207.52,188.51 L207.75,188.30 L207.98,188.09 L208.22,187.88 L208.45,187.67 L208.69,187.46 L208.92,187.24 L209.16,187.03 L209.39,186.82 L209.62,186.60 L209.86,186.39 L210.09,186.17 L210.33,185.95 L210.56,185.74 L210.56,185.74 M212.20,184.20 L212.44,183.98 L212.67,183.76 L212.90,183.54 L213.14,183.32 L213.37,183.09 L213.61,182.87 L213.84,182.64 L214.07,182.42 L214.29,182.21 L214.51,182.00 L214.73,181.79 L214.94,181.58 L215.16,181.37 L215.38,181.16 L215.59,180.95 L215.81,180.73 L216.02,180.52 L216.24,180.31 L216.46,180.10 L216.67,179.88 L216.89,179.67 L217.03,179.53 M218.62,177.94 L218.83,177.72 L219.05,177.50 L219.27,177.28 L219.48,177.06 L219.70,176.84 L219.92,176.62 L220.13,176.40 L220.35,176.18 L220.56,175.95 L220.78,175.73 L221.00,175.51 L221.21,175.28 L221.43,175.06 L221.65,174.84 L221.86,174.61 L222.08,174.38 L222.29,174.16 L222.51,173.93 L222.73,173.70 L222.94,173.48 L223.09,173.32 M224.67,171.64 L224.89,171.40 L225.10,171.17 L225.32,170.94 L225.54,170.71 L225.75,170.47 L225.97,170.24 L226.19,170.00 L226.40,169.77 L226.62,169.53 L226.83,169.29 L227.05,169.06 L227.27,168.82 L227.48,168.58 L227.70,168.34 L227.92,168.10 L228.13,167.87 L228.33,167.64 L228.54,167.42 L228.74,167.19 L228.87,167.04 M230.41,165.31 L230.61,165.09 L230.81,164.86 L231.01,164.63 L231.21,164.40 L231.41,164.17 L231.61,163.94 L231.81,163.71 L232.02,163.48 L232.22,163.25 L232.42,163.02 L232.62,162.79 L232.82,162.56 L233.02,162.32 L233.22,162.09 L233.42,161.86 L233.62,161.62 L233.82,161.39 L234.02,161.15 L234.22,160.92 L234.36,160.76 M235.83,159.02 L236.03,158.78 L236.23,158.54 L236.43,158.30 L236.63,158.07 L236.83,157.82 L237.03,157.58 L237.24,157.34 L237.44,157.10 L237.64,156.86 L237.84,156.62 L238.04,156.37 L238.24,156.13 L238.44,155.89 L238.64,155.64 L238.84,155.40 L239.04,155.15 L239.24,154.91 L239.44,154.66 L239.58,154.50 M241.05,152.68 L241.25,152.43 L241.45,152.18 L241.65,151.93 L241.85,151.67 L242.05,151.42 L242.25,151.18 L242.44,150.94 L242.63,150.70 L242.81,150.47 L243.00,150.23 L243.19,149.99 L243.38,149.76 L243.56,149.52 L243.75,149.28 L243.94,149.04 L244.13,148.81 L244.31,148.57 L244.50,148.33 L244.56,148.25 M246.00,146.40 L246.19,146.16 L246.38,145.91 L246.56,145.67 L246.75,145.43 L246.94,145.18 L247.12,144.94 L247.31,144.69 L247.50,144.45 L247.69,144.20 L247.87,143.96 L248.06,143.71 L248.25,143.46 L248.44,143.22 L248.62,142.97 L248.81,142.72 L249.00,142.48 L249.19,142.23 L249.37,141.98 L249.37,141.98 M250.75,140.15 L250.93,139.89 L251.12,139.64 L251.31,139.39 L251.50,139.14 L251.68,138.88 L251.87,138.63 L252.06,138.38 L252.25,138.12 L252.43,137.87 L252.62,137.62 L252.81,137.36 L253.00,137.10 L253.18,136.85 L253.37,136.59 L253.56,136.34 L253.75,136.08 L253.93,135.82 L254.00,135.74 M255.31,133.93 L255.48,133.68 L255.66,133.44 L255.84,133.19 L256.01,132.95 L256.19,132.70 L256.36,132.46 L256.54,132.21 L256.71,131.97 L256.89,131.72 L257.07,131.48 L257.24,131.23 L257.42,130.98 L257.59,130.73 L257.77,130.49 L257.94,130.24 L258.12,129.99 L258.30,129.74 L258.47,129.49 L258.47,129.49 M259.82,127.58 L259.99,127.33 L260.17,127.08 L260.35,126.82 L260.52,126.57 L260.70,126.32 L260.87,126.07 L261.05,125.82 L261.22,125.56 L261.40,125.31 L261.57,125.05 L261.75,124.80 L261.93,124.55 L262.10,124.29 L262.28,124.04 L262.45,123.78 L262.63,123.53 L262.80,123.27 L262.86,123.19 M264.21,121.21 L264.39,120.96 L264.56,120.70 L264.74,120.44 L264.91,120.18 L265.09,119.92 L265.26,119.66 L265.44,119.40 L265.62,119.14 L265.79,118.88 L265.97,118.62 L266.14,118.36 L266.32,118.10 L266.49,117.84 L266.67,117.57 L266.85,117.31 L267.02,117.05 L267.20,116.79 L267.20,116.79 M268.48,114.85 L268.66,114.59 L268.84,114.32 L269.01,114.06 L269.19,113.79 L269.36,113.53 L269.53,113.27 L269.70,113.02 L269.86,112.77 L270.03,112.52 L270.19,112.27 L270.36,112.02 L270.52,111.76 L270.69,111.51 L270.85,111.26 L271.02,111.01 L271.18,110.75 L271.35,110.50 L271.46,110.33 M272.73,108.38 L272.89,108.13 L273.06,107.87 L273.22,107.62 L273.39,107.36 L273.55,107.10 L273.72,106.85 L273.88,106.59 L274.05,106.33 L274.21,106.08 L274.38,105.82 L274.55,105.56 L274.71,105.30 L274.88,105.05 L275.04,104.79 L275.21,104.53 L275.37,104.27 L275.54,104.01 L275.65,103.84 M276.92,101.85 L277.08,101.59 L277.25,101.33 L277.41,101.07 L277.58,100.80 L277.74,100.54 L277.91,100.28 L278.07,100.02 L278.24,99.76 L278.40,99.49 L278.57,99.23 L278.73,98.97 L278.90,98.71 L279.06,98.44 L279.23,98.18 L279.40,97.92 L279.56,97.65 L279.73,97.39 L279.78,97.30 M280.99,95.36 L281.16,95.09 L281.32,94.82 L281.49,94.56 L281.65,94.29 L281.82,94.03 L281.99,93.76 L282.15,93.49 L282.32,93.23 L282.48,92.96 L282.65,92.69 L282.81,92.42 L282.98,92.15 L283.14,91.89 L283.31,91.62 L283.47,91.35 L283.64,91.08 L283.80,90.81 L283.86,90.72 M285.07,88.74 L285.24,88.47 L285.40,88.20 L285.57,87.93 L285.73,87.66 L285.90,87.39 L286.06,87.12 L286.23,86.85 L286.39,86.59 L286.54,86.33 L286.70,86.07 L286.86,85.82 L287.01,85.56 L287.17,85.30 L287.32,85.05 L287.48,84.79 L287.64,84.53 L287.79,84.27 L287.84,84.19 M289.04,82.20 L289.20,81.94 L289.35,81.68 L289.51,81.42 L289.67,81.16 L289.82,80.90 L289.98,80.64 L290.13,80.38 L290.29,80.12 L290.45,79.86 L290.60,79.60 L290.76,79.34 L290.92,79.08 L291.07,78.82 L291.23,78.56 L291.38,78.30 L291.54,78.04 L291.70,77.77 L291.85,77.51 L291.85,77.51 M293.00,75.59 L293.15,75.32 L293.31,75.06 L293.47,74.80 L293.62,74.54 L293.78,74.27 L293.93,74.01 L294.09,73.74 L294.25,73.48 L294.40,73.22 L294.56,72.95 L294.72,72.69 L294.87,72.42 L295.03,72.16 L295.18,71.89 L295.34,71.63 L295.50,71.37 L295.65,71.10 L295.76,70.92 M296.95,68.89 L297.11,68.62 L297.27,68.36 L297.42,68.09 L297.58,67.82 L297.73,67.56 L297.89,67.29 L298.05,67.02 L298.20,66.76 L298.36,66.49 L298.51,66.22 L298.67,65.95 L298.83,65.69 L298.98,65.42 L299.14,65.15 L299.30,64.88 L299.45,64.62 L299.61,64.35 L299.66,64.26 M300.86,62.20 L301.01,61.93 L301.17,61.66 L301.33,61.40 L301.48,61.13 L301.64,60.86 L301.79,60.59 L301.95,60.32 L302.11,60.05 L302.26,59.78 L302.42,59.51 L302.57,59.24 L302.73,58.97 L302.89,58.70 L303.04,58.43 L303.20,58.16 L303.36,57.89 L303.51,57.62 L303.56,57.53 M304.71,55.54 L304.87,55.27 L305.02,55.00 L305.18,54.73 L305.33,54.46 L305.49,54.19 L305.65,53.92 L305.80,53.64 L305.96,53.37 L306.11,53.10 L306.27,52.83 L306.43,52.56 L306.58,52.29 L306.74,52.01 L306.90,51.74 L307.05,51.47 L307.21,51.20 L307.36,50.93 L307.42,50.83 M308.56,48.84 L308.72,48.56 L308.87,48.29 L309.03,48.02 L309.19,47.74 L309.34,47.47 L309.50,47.20 L309.65,46.92 L309.81,46.65 L309.97,46.38 L310.12,46.10 L310.28,45.83 L310.43,45.56 L310.59,45.28 L310.75,45.01 L310.90,44.74 L311.06,44.46 L311.22,44.19 L311.22,44.19 M312.36,42.18 L312.52,41.90 L312.67,41.63 L312.83,41.36 L312.99,41.08 L313.14,40.81 L313.30,40.53 L313.45,40.26 L313.61,39.98 L313.77,39.71 L313.92,39.43 L314.08,39.16 L314.23,38.89 L314.39,38.61 L314.55,38.34 L314.70,38.06 L314.86,37.79 L315.02,37.51 L315.07,37.42 M316.21,35.40 L316.37,35.13 L316.52,34.85 L316.68,34.58 L316.84,34.30 L316.99,34.03 L317.15,33.75 L317.31,33.48 L317.46,33.20 L317.62,32.93 L317.77,32.65 L317.93,32.38 L318.09,32.10 L318.24,31.83 L318.40,31.55 L318.55,31.27 L318.71,31.00 L318.87,30.72 L318.87,30.72 M320.01,28.71 L320.16,28.44 L320.31,28.18 L320.45,27.92 L320.60,27.66 L320.75,27.40 L320.90,27.14 L321.05,26.88 L321.19,26.62 L321.34,26.36 L321.49,26.10 L321.64,25.83 L321.79,25.57 L321.93,25.31 L322.08,25.05 L322.23,24.79 L322.38,24.53 L322.53,24.27 L322.67,24.01 L322.67,24.01 M323.81,22.00 L323.97,21.72 L324.12,21.45 L324.28,21.17 L324.44,20.90 L324.59,20.62 L324.75,20.35 L324.90,20.07 L325.06,19.80 L325.22,19.52 L325.37,19.25 L325.53,18.97 L325.69,18.70 L325.84,18.42 L326.00,18.15 L326.15,17.87 L326.31,17.60 L326.47,17.32 L326.47,17.32 M327.61,15.30 L327.77,15.03 L327.92,14.75 L328.08,14.48 L328.24,14.21 L328.39,13.93 L328.55,13.66 L328.70,13.38 L328.86,13.11 L329.02,12.83 L329.17,12.56 L329.33,12.28 L329.49,12.01 L329.64,11.73 L329.80,11.46 L329.95,11.19 L330.11,10.91 L330.27,10.64 L330.27,10.64 M331.41,8.63 L331.57,8.36 L331.72,8.08 L331.88,7.81 L332.04,7.53 L332.19,7.26 L332.35,6.99 L332.50,6.71 L332.66,6.44 L332.82,6.17 L332.97,5.90 L333.13,5.62 L333.29,5.35 L333.44,5.08 L333.60,4.80 L333.75,4.53 L333.91,4.26 L334.01,4.08" stroke="#ff0000" stroke-width="2.3"/>
<path d="M53.9,146.80 H245.50" stroke="#ff0000" stroke-width="1.6" stroke-dasharray="4.2 1.55"/>
<path d="M245.50,249.15 V146.80" stroke="#ff0000" stroke-width="1.6" stroke-dasharray="4.2 1.55"/>
<path d="M53.90,155.61 L54.08,155.18 L54.27,154.75 L54.45,154.32 L54.63,153.89 L54.82,153.46 L55.00,153.03 L55.18,152.59 L55.36,152.16 L55.55,151.72 L55.73,151.28 L55.91,150.85 L56.10,150.41 L56.28,149.97 L56.46,149.53 L56.65,149.09 L56.83,148.64 L57.01,148.20 L57.20,147.75 L57.38,147.31 L57.56,146.86 L57.74,146.42 L57.93,145.97 L58.11,145.52 L58.29,145.07 L58.48,144.62 L58.66,144.16 L58.84,143.71 L59.03,143.26 L59.21,142.80 L59.39,142.35 L59.58,141.89 L59.76,141.43 L59.94,140.98 L60.12,140.52 L60.31,140.06 L60.49,139.60 L60.67,139.13 L60.86,138.67 L61.04,138.21 L61.22,137.74 L61.41,137.28 L61.59,136.81 L61.77,136.35 L61.96,135.88 L62.14,135.41 L62.32,134.94 L62.50,134.47 L62.69,134.00 L62.87,133.53 L63.05,133.05 L63.24,132.58 L63.42,132.11 L63.60,131.63 L63.79,131.15 L63.97,130.68 L64.15,130.20 L64.34,129.72 L64.52,129.24 L64.70,128.76 L64.88,128.28 L65.07,127.80 L65.25,127.32 L65.43,126.84 L65.62,126.35 L65.80,125.87 L65.98,125.38 L66.17,124.90 L66.35,124.41 L66.53,123.92 L66.72,123.43 L66.90,122.95 L67.08,122.46 L67.26,121.97 L67.45,121.47 L67.63,120.98 L67.81,120.49 L68.00,120.00 L68.18,119.50 L68.36,119.01 L68.55,118.51 L68.73,118.02 L68.91,117.52 L69.10,117.02 L69.28,116.53 L69.46,116.03 L69.64,115.53 L69.83,115.03 L70.01,114.53 L70.19,114.03 L70.38,113.53 L70.56,113.02 L70.74,112.52 L70.93,112.02 L71.11,111.51 L71.29,111.01 L71.48,110.50 L71.66,110.00 L71.84,109.49 L72.02,108.99 L72.21,108.48 L72.39,107.97 L72.57,107.46 L72.76,106.95 L72.94,106.44 L73.12,105.93 L73.31,105.42 L73.49,104.91 L73.67,104.40 L73.86,103.88 L74.04,103.37 L74.22,102.86 L74.40,102.34 L74.59,101.83 L74.77,101.31 L74.95,100.80 L75.14,100.28 L75.32,99.77 L75.50,99.25 L75.69,98.73 L75.87,98.21 L76.05,97.70 L76.24,97.18 L76.42,96.66 L76.60,96.14 L76.78,95.62 L76.97,95.10 L77.15,94.58 L77.33,94.06 L77.52,93.53 L77.70,93.01 L77.88,92.49 L78.07,91.97 L78.25,91.44 L78.43,90.92 L78.62,90.39 L78.80,89.87 L78.98,89.35 L79.16,88.82 L79.35,88.30 L79.53,87.77 L79.71,87.24 L79.90,86.72 L80.08,86.19 L80.26,85.66 L80.45,85.14 L80.63,84.61 L80.81,84.08 L81.00,83.55 L81.18,83.02 L81.36,82.49 L81.54,81.96 L81.73,81.44 L81.91,80.91 L82.09,80.38 L82.28,79.85 L82.46,79.32 L82.64,78.78 L82.83,78.25 L83.01,77.72 L83.19,77.19 L83.38,76.66 L83.56,76.13 L83.74,75.60 L83.92,75.06 L84.11,74.53 L84.29,74.00 L84.47,73.47 L84.66,72.93 L84.84,72.40 L85.02,71.87 L85.21,71.33 L85.39,70.80 L85.57,70.27 L85.76,69.73 L85.94,69.20 L86.12,68.67 L86.30,68.13 L86.49,67.60 L86.67,67.06 L86.85,66.53 L87.04,66.00 L87.22,65.46 L87.40,64.93 L87.59,64.39 L87.77,63.86 L87.95,63.32 L88.14,62.79 L88.32,62.25 L88.50,61.72 L88.68,61.19 L88.87,60.65 L89.05,60.12 L89.23,59.58 L89.42,59.05 L89.60,58.51 L89.78,57.98 L89.97,57.44 L90.15,56.91 L90.33,56.37 L90.52,55.84 L90.70,55.30 L90.88,54.77 L91.06,54.24 L91.25,53.70 L91.43,53.17 L91.61,52.63 L91.80,52.10 L91.98,51.57 L92.16,51.03 L92.35,50.50 L92.53,49.97 L92.71,49.43 L92.90,48.90 L93.08,48.37 L93.26,47.83 L93.44,47.30 L93.63,46.77 L93.81,46.23 L93.99,45.70 L94.18,45.17 L94.36,44.64 L94.54,44.11 L94.73,43.58 L94.91,43.04 L95.09,42.51 L95.28,41.98 L95.46,41.45 L95.64,40.92 L95.82,40.39 L96.01,39.86 L96.19,39.33 L96.37,38.80 L96.56,38.27 L96.74,37.75 L96.92,37.22 L97.11,36.69 L97.29,36.16 L97.47,35.63 L97.66,35.11 L97.84,34.58 L98.02,34.05 L98.20,33.53 L98.39,33.00 L98.57,32.47 L98.75,31.95 L98.94,31.42 L99.12,30.90 L99.30,30.38 L99.49,29.85 L99.67,29.33 L99.85,28.81 L100.04,28.28 L100.22,27.76 L100.40,27.24 L100.58,26.72 L100.77,26.20 L100.95,25.68 L101.13,25.16 L101.32,24.64 L101.50,24.12 L101.68,23.60 L101.87,23.08 L102.05,22.56 L102.23,22.05 L102.42,21.53 L102.60,21.01 L102.78,20.50 L102.96,19.98 L103.15,19.47 L103.33,18.96 L103.51,18.44 L103.70,17.93 L103.88,17.42 L104.06,16.90 L104.25,16.39 L104.43,15.88 L104.61,15.37 L104.80,14.86 L104.98,14.35 L105.16,13.84 L105.34,13.34 L105.53,12.83 L105.71,12.32 L105.89,11.82 L106.08,11.31 L106.26,10.81 L106.44,10.30 L106.63,9.80 L106.81,9.30 L106.99,8.79 L107.18,8.29 L107.36,7.79 L107.54,7.29 L107.72,6.79 L107.91,6.29 L108.09,5.79 L108.27,5.30 L108.46,4.80 L108.64,4.30" stroke="#0080ff" stroke-width="2.3" stroke-dasharray="10.5 9.5" stroke-dashoffset="0"/>
</g>
<rect x="53.9" y="12.9" width="338.1" height="236.25" fill="none" stroke="#000" stroke-width="1.6"/>
<path d="M53.90,249.15 v-4.3 M53.90,12.9 v4.3 M86.10,249.15 v-4.3 M86.10,12.9 v4.3 M118.30,249.15 v-4.3 M118.30,12.9 v4.3 M150.50,249.15 v-4.3 M150.50,12.9 v4.3 M182.70,249.15 v-4.3 M182.70,12.9 v4.3 M214.90,249.15 v-4.3 M214.90,12.9 v4.3 M247.10,249.15 v-4.3 M247.10,12.9 v4.3 M279.30,249.15 v-4.3 M279.30,12.9 v4.3 M311.50,249.15 v-4.3 M311.50,12.9 v4.3 M343.70,249.15 v-4.3 M343.70,12.9 v4.3 M375.90,249.15 v-4.3 M375.90,12.9 v4.3 M53.9,249.20 h4.3 M392.0,249.20 h-4.3 M53.9,214.20 h4.3 M392.0,214.20 h-4.3 M53.9,179.20 h4.3 M392.0,179.20 h-4.3 M53.9,144.20 h4.3 M392.0,144.20 h-4.3 M53.9,109.20 h4.3 M392.0,109.20 h-4.3 M53.9,74.20 h4.3 M392.0,74.20 h-4.3 M53.9,39.20 h4.3 M392.0,39.20 h-4.3" stroke="#000" stroke-width="0.7" fill="none"/>
<g class="t" fill="#000">
<text transform="translate(55.80,266.7) scale(0.97,1.04)" text-anchor="middle">1.2</text>
<text transform="translate(88.00,266.7) scale(0.97,1.04)" text-anchor="middle">1.3</text>
<text transform="translate(120.20,266.7) scale(0.97,1.04)" text-anchor="middle">1.4</text>
<text transform="translate(152.40,266.7) scale(0.97,1.04)" text-anchor="middle">1.5</text>
<text transform="translate(184.60,266.7) scale(0.97,1.04)" text-anchor="middle">1.6</text>
<text transform="translate(216.80,266.7) scale(0.97,1.04)" text-anchor="middle">1.7</text>
<text transform="translate(249.00,266.7) scale(0.97,1.04)" text-anchor="middle">1.8</text>
<text transform="translate(281.20,266.7) scale(0.97,1.04)" text-anchor="middle">1.9</text>
<text transform="translate(313.40,266.7) scale(0.97,1.04)" text-anchor="middle">2</text>
<text transform="translate(345.60,266.7) scale(0.97,1.04)" text-anchor="middle">2.1</text>
<text transform="translate(377.80,266.7) scale(0.97,1.04)" text-anchor="middle">2.2</text>
<text transform="translate(46.4,254.60) scale(0.97,1.04)" text-anchor="end">0</text>
<text transform="translate(46.4,219.60) scale(0.97,1.04)" text-anchor="end">0.01</text>
<text transform="translate(46.4,184.60) scale(0.97,1.04)" text-anchor="end">0.02</text>
<text transform="translate(46.4,149.60) scale(0.97,1.04)" text-anchor="end">0.03</text>
<text transform="translate(46.4,114.60) scale(0.97,1.04)" text-anchor="end">0.04</text>
<text transform="translate(46.4,79.60) scale(0.97,1.04)" text-anchor="end">0.05</text>
<text transform="translate(46.4,44.60) scale(0.97,1.04)" text-anchor="end">0.06</text>
<text transform="translate(223,285.5) scale(0.98,1.05)" text-anchor="middle" font-style="italic">r/a</text>
<g transform="translate(16.5,149.7) rotate(-90)">
<path d="M3.1,-9.4 L0.3,-3.85 L3.1,1.7 M12.3,-9.4 L14.9,-3.85 L12.3,1.7" stroke="#000" stroke-width="0.8" fill="none"/>
<text transform="translate(4.3,0) scale(1.07,1.26)">σ</text><text x="18.3" y="0">/</text><text transform="translate(25.4,0) scale(1.07,1.26)">σ</text><text x="32.6" y="4.4" style="font-size:10.6px">0</text>
</g>
</g>
</svg></body></html>
